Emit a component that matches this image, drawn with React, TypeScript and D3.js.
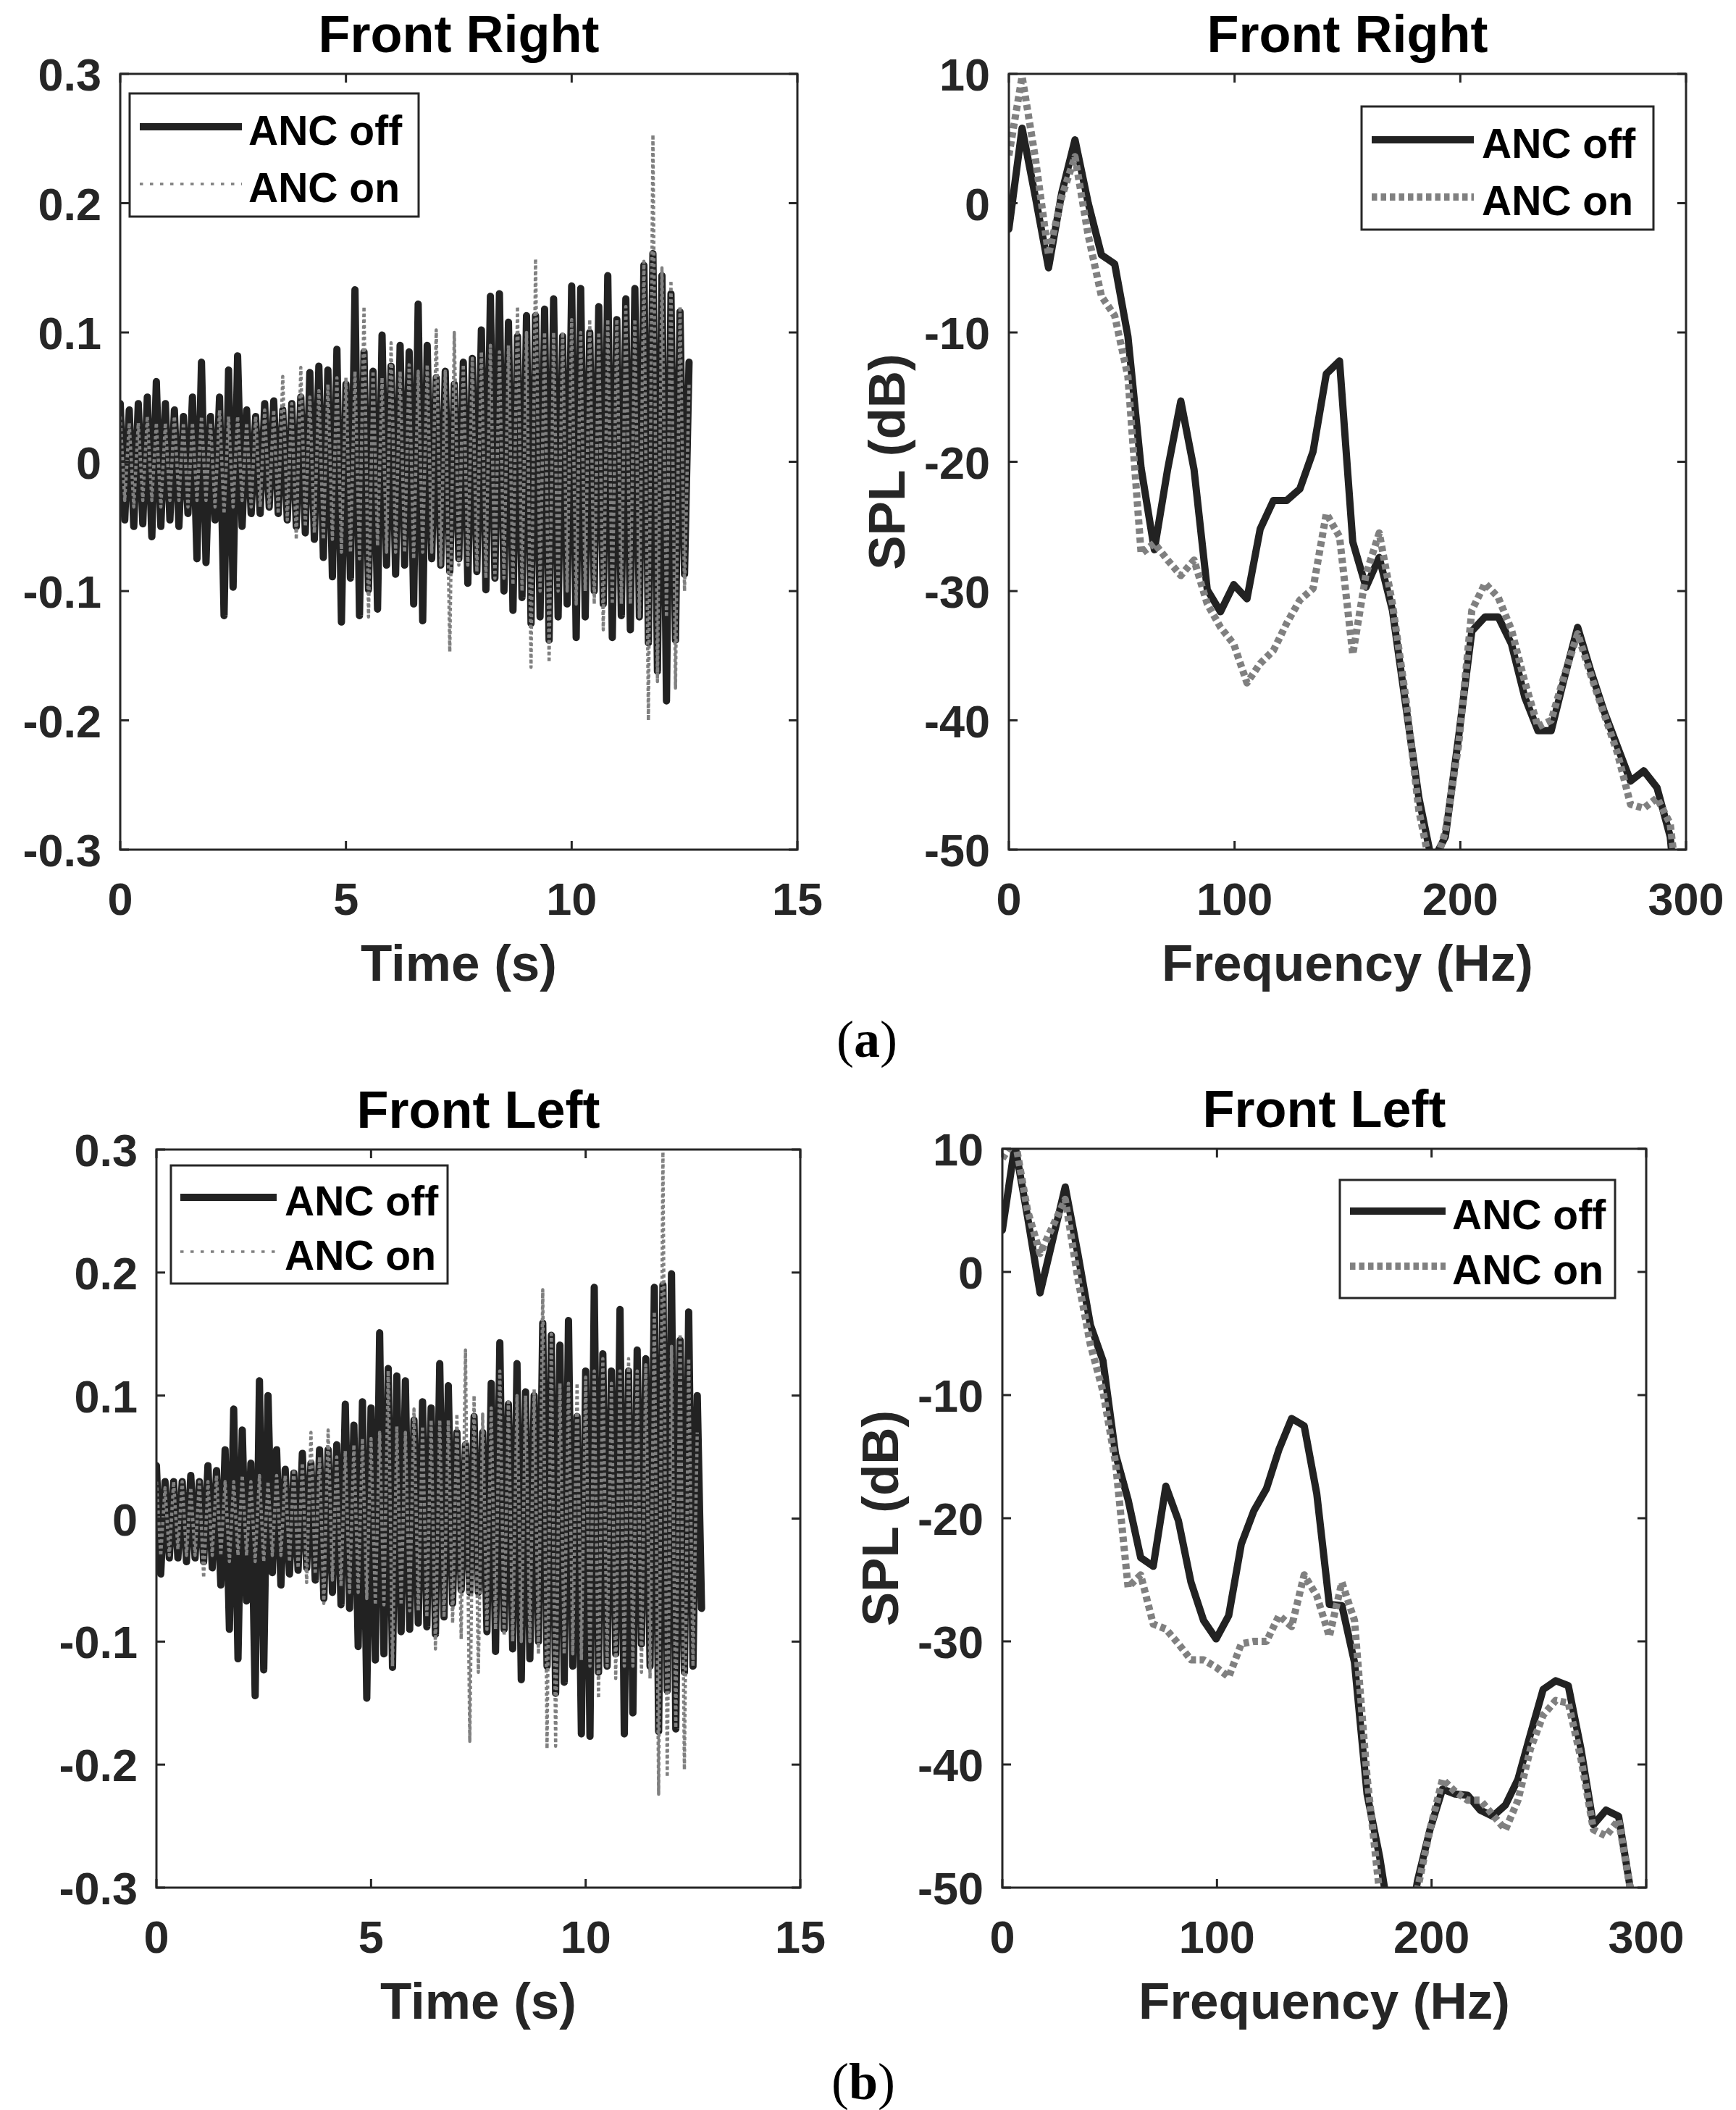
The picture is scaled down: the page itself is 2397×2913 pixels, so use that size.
import React from "react";
import * as d3 from "d3";

// ---------- DATA ----------
// time-domain peak samples, one value every SAMPLE_DT seconds (alternating upper / lower peaks)
const SAMPLE_DT = 0.1;
// spectrum bins, one value every FREQ_BIN Hz
const FREQ_BIN = 5.86;

const frontRightOff = [
  0.045, -0.045, 0.04, -0.05, 0.045, -0.048, 0.05, -0.058, 0.062, -0.05,
  0.045, -0.045, 0.04, -0.05, 0.035, -0.04, 0.05, -0.075, 0.077, -0.078,
  0.035, -0.045, 0.05, -0.119, 0.071, -0.097, 0.082, -0.05, 0.04, -0.04,
  0.035, -0.04, 0.045, -0.035, 0.047, -0.04, 0.04, -0.045, 0.045, -0.05,
  0.05, -0.055, 0.069, -0.06, 0.074, -0.074, 0.071, -0.089, 0.087, -0.124,
  0.06, -0.09, 0.133, -0.119, 0.085, -0.099, 0.07, -0.114, 0.098, -0.08,
  0.074, -0.087, 0.09, -0.08, 0.085, -0.11, 0.122, -0.123, 0.09, -0.075,
  0.065, -0.08, 0.07, -0.085, 0.06, -0.075, 0.077, -0.094, 0.08, -0.085,
  0.102, -0.099, 0.128, -0.09, 0.13, -0.1, 0.108, -0.115, 0.097, -0.105,
  0.113, -0.125, 0.113, -0.12, 0.118, -0.138, 0.126, -0.12, 0.097, -0.11,
  0.136, -0.136, 0.134, -0.12, 0.1, -0.1, 0.12, -0.11, 0.144, -0.136,
  0.11, -0.119, 0.126, -0.13, 0.134, -0.12, 0.152, -0.14, 0.161, -0.162,
  0.144, -0.185, 0.13, -0.138, 0.116, -0.087, 0.077,
];

const frontRightOn = [
  0.035, -0.03, 0.03, -0.035, 0.03, -0.03, 0.035, -0.03, 0.03, -0.035,
  0.03, -0.03, 0.035, -0.03, 0.03, -0.035, 0.03, -0.03, 0.035, -0.03,
  0.03, -0.035, 0.04, -0.04, 0.035, -0.035, 0.035, -0.03, 0.03, -0.035,
  0.035, -0.035, 0.04, -0.035, 0.04, -0.04, 0.066, -0.045, 0.045, -0.06,
  0.073, -0.05, 0.05, -0.055, 0.055, -0.06, 0.06, -0.06, 0.065, -0.07,
  0.065, -0.07, 0.07, -0.075, 0.12, -0.12, 0.07, -0.065, 0.065, -0.07,
  0.092, -0.07, 0.07, -0.07, 0.075, -0.075, 0.07, -0.07, 0.075, -0.07,
  0.102, -0.08, 0.07, -0.147, 0.1, -0.08, 0.075, -0.08, 0.08, -0.085,
  0.085, -0.09, 0.09, -0.09, 0.085, -0.09, 0.09, -0.095, 0.12, -0.1,
  0.1, -0.159, 0.157, -0.1, 0.1, -0.155, 0.1, -0.1, 0.1, -0.1,
  0.11, -0.11, 0.1, -0.1, 0.11, -0.11, 0.1, -0.13, 0.11, -0.11,
  0.11, -0.11, 0.12, -0.11, 0.11, -0.12, 0.155, -0.2, 0.253, -0.17,
  0.15, -0.12, 0.14, -0.175, 0.12, -0.1, 0.06,
];

const frontLeftOff = [
  0.043, -0.045, 0.03, -0.032, 0.03, -0.032, 0.03, -0.035, 0.035, -0.032,
  0.03, -0.035, 0.043, -0.04, 0.039, -0.054, 0.056, -0.09, 0.089, -0.114,
  0.072, -0.067, 0.045, -0.144, 0.112, -0.123, 0.1, -0.044, 0.056, -0.054,
  0.04, -0.045, 0.037, -0.042, 0.053, -0.04, 0.045, -0.05, 0.056, -0.065,
  0.056, -0.06, 0.06, -0.07, 0.093, -0.073, 0.076, -0.104, 0.095, -0.146,
  0.09, -0.115, 0.151, -0.11, 0.122, -0.121, 0.116, -0.092, 0.112, -0.09,
  0.08, -0.085, 0.095, -0.088, 0.09, -0.094, 0.126, -0.08, 0.108, -0.069,
  0.07, -0.058, 0.06, -0.06, 0.083, -0.06, 0.07, -0.092, 0.11, -0.108,
  0.143, -0.09, 0.093, -0.106, 0.126, -0.131, 0.103, -0.114, 0.1, -0.1,
  0.159, -0.12, 0.149, -0.142, 0.141, -0.133, 0.161, -0.12, 0.083, -0.175,
  0.12, -0.177, 0.188, -0.125, 0.134, -0.12, 0.12, -0.11, 0.17, -0.175,
  0.12, -0.158, 0.137, -0.102, 0.13, -0.12, 0.188, -0.173, 0.19, -0.14,
  0.199, -0.171, 0.145, -0.125, 0.168, -0.12, 0.1, -0.073,
];

const frontLeftOn = [
  0.03, -0.03, 0.025, -0.03, 0.03, -0.025, 0.03, -0.03, 0.025, -0.03,
  0.03, -0.048, 0.03, -0.03, 0.035, -0.03, 0.03, -0.035, 0.03, -0.03,
  0.035, -0.03, 0.03, -0.035, 0.035, -0.035, 0.03, -0.03, 0.035, -0.03,
  0.035, -0.035, 0.04, -0.04, 0.045, -0.052, 0.07, -0.045, 0.05, -0.069,
  0.072, -0.05, 0.05, -0.055, 0.055, -0.06, 0.06, -0.06, 0.065, -0.065,
  0.065, -0.07, 0.07, -0.07, 0.12, -0.12, 0.075, -0.07, 0.07, -0.075,
  0.089, -0.075, 0.075, -0.08, 0.08, -0.106, 0.08, -0.08, 0.08, -0.085,
  0.085, -0.098, 0.137, -0.181, 0.1, -0.125, 0.085, -0.09, 0.09, -0.09,
  0.12, -0.095, 0.095, -0.1, 0.1, -0.1, 0.1, -0.1, 0.105, -0.11,
  0.186, -0.187, 0.15, -0.185, 0.11, -0.11, 0.11, -0.11, 0.11, -0.115,
  0.115, -0.12, 0.12, -0.146, 0.13, -0.12, 0.11, -0.13, 0.12, -0.12,
  0.13, -0.12, 0.12, -0.125, 0.125, -0.13, 0.168, -0.224, 0.298, -0.21,
  0.14, -0.17, 0.15, -0.204, 0.13, -0.12, 0.07,
];

const splFrontRightOff = [
  -2, 5.8, 0.5, -5.0, 0.8, 4.9, 0, -4.0, -4.7, -10.3,
  -20.5, -26.8, -20.6, -15.3, -20.6, -29.9, -31.6, -29.5, -30.6, -25.2,
  -23.0, -23.0, -22.1, -19.2, -13.2, -12.2, -26.2, -29.7, -27.4, -31.5,
  -38.8, -46.0, -51, -49, -41.3, -33.1, -32, -32, -34.1, -38.2,
  -40.8, -40.8, -36.7, -32.8, -36.2, -39.3, -42, -44.7, -43.9, -45.2,
  -49, -60,
];
const splFrontRightOn = [
  3.7, 9.8, 3.5, -4.0, 0.5, 3.6, -2.5, -7.2, -8.7, -13.4,
  -27.1, -26.3, -27.6, -28.8, -27.6, -31, -32.8, -34.1, -37.1, -35.6,
  -34.6, -32.5, -30.7, -29.8, -24.0, -25.8, -34.9, -28.7, -25.5, -31,
  -38.2, -47, -52, -48.6, -41.9, -31.5, -29.4, -30.5, -33, -37,
  -40.5, -40, -36.5, -33.3, -36.5, -39.5, -42.5, -46.5, -46.8, -46,
  -48, -57,
];
const splFrontLeftOff = [
  3.4, 10.3, 4.5, -1.7, 2.6, 6.9, 1.5, -4.3, -7.2, -14.8,
  -18.5, -23.2, -23.9, -17.4, -20.2, -25.2, -28.3, -29.8, -27.9, -22.1,
  -19.4, -17.6, -14.4, -11.9, -12.5, -18, -27, -27.1, -31.7, -42.4,
  -47.5, -54, -56, -49.5, -45.3, -42, -42.4, -42.5, -43.7, -44.2,
  -43.3, -41.2, -37.5, -33.9, -33.2, -33.6, -38.7, -44.9, -43.7, -44.2,
  -50.5, -60,
];
const splFrontLeftOn = [
  9.2, 10.8, 5, 1.5, 3.7, 5.9, -0.5, -5.9, -9.7, -15.5,
  -25.6, -24.6, -28.6, -29, -30.2, -31.5, -31.5, -32.1, -32.9, -30.2,
  -30, -30, -27.9, -28.8, -24.6, -26.3, -29.6, -25.2, -28.3, -41,
  -50.5, -56, -58, -50.2, -45.3, -41.2, -42.2, -42.9, -42.9, -44.1,
  -45.3, -42.9, -38.7, -36, -34.8, -35, -39.5, -45.3, -45.8, -44.5,
  -50.5, -60,
];

const timeTicks = [0, 5, 10, 15];
const ampTicks = [-0.3, -0.2, -0.1, 0, 0.1, 0.2, 0.3];
const freqTicks = [0, 100, 200, 300];
const splTicks = [-50, -40, -30, -20, -10, 0, 10];
const legendLabels = ["ANC off", "ANC on"];

// ---------- STYLE ----------
const SANS = "'Liberation Sans', Arial, Helvetica, sans-serif";
const SERIF = "'Liberation Serif', 'Times New Roman', serif";
const AXIS = "#262626";
const DARK = "#222222";
const GREY = "#808080";

type Box = { x0: number; x1: number; y0: number; y1: number };
type LineStyle = { color: string; width: number; dash?: string };
type Series = { values: number[]; step: number; style: LineStyle };
type Legend = { x0: number; x1: number; y0: number; y1: number; s0: number; s1: number; tx: number; rows: number[] };

const fmtAmp = (d: number) => (Math.abs(d) < 1e-9 ? "0" : (d < 0 ? "-" : "") + Math.abs(d).toFixed(1));
const fmtInt = (d: number) => (d < 0 ? "-" + Math.abs(d) : String(d));

function Panel(props: {
  id: string;
  box: Box;
  xDomain: [number, number];
  yDomain: [number, number];
  xTicks: number[];
  yTicks: number[];
  fmtX: (d: number) => string;
  fmtY: (d: number) => string;
  series: Series[];
  title: string;
  xLabel: string;
  yLabel?: string;
  legend: Legend;
  legendStyles: LineStyle[];
}) {
  const { id, box, series, legend } = props;
  const x = d3.scaleLinear().domain(props.xDomain).range([box.x0, box.x1]);
  const y = d3.scaleLinear().domain(props.yDomain).range([box.y1, box.y0]);
  const T = 12;
  const cx = (box.x0 + box.x1) / 2;
  const cy = (box.y0 + box.y1) / 2;
  return (
    <g>
      <defs>
        <clipPath id={`clip-${id}`}>
          <rect x={box.x0} y={box.y0} width={box.x1 - box.x0} height={box.y1 - box.y0} />
        </clipPath>
      </defs>
      <g clipPath={`url(#clip-${id})`}>
        {series.map((s, k) => {
          const line = d3
            .line<number>()
            .x((_, i) => x(i * s.step))
            .y((d) => y(d));
          return (
            <path
              key={k}
              d={line(s.values) || ""}
              fill="none"
              stroke={s.style.color}
              strokeWidth={s.style.width}
              strokeDasharray={s.style.dash}
              strokeLinejoin="round"
              strokeLinecap={s.style.dash ? "butt" : "round"}
            />
          );
        })}
      </g>
      {props.xTicks.map((t) => (
        <g key={`xt${t}`}>
          <line x1={x(t)} x2={x(t)} y1={box.y1} y2={box.y1 - T} stroke={AXIS} strokeWidth={3} />
          <line x1={x(t)} x2={x(t)} y1={box.y0} y2={box.y0 + T} stroke={AXIS} strokeWidth={3} />
          <text x={x(t)} y={box.y1 + 90} textAnchor="middle" fontFamily={SANS} fontWeight="bold" fontSize={63} fill={AXIS}>
            {props.fmtX(t)}
          </text>
        </g>
      ))}
      {props.yTicks.map((t) => (
        <g key={`yt${t}`}>
          <line x1={box.x0} x2={box.x0 + T} y1={y(t)} y2={y(t)} stroke={AXIS} strokeWidth={3} />
          <line x1={box.x1} x2={box.x1 - T} y1={y(t)} y2={y(t)} stroke={AXIS} strokeWidth={3} />
          <text x={box.x0 - 26} y={y(t) + 23} textAnchor="end" fontFamily={SANS} fontWeight="bold" fontSize={63} fill={AXIS}>
            {props.fmtY(t)}
          </text>
        </g>
      ))}
      <rect x={box.x0} y={box.y0} width={box.x1 - box.x0} height={box.y1 - box.y0} fill="none" stroke={AXIS} strokeWidth={3} />
      <text x={cx} y={box.y0 - 30} textAnchor="middle" fontFamily={SANS} fontWeight="bold" fontSize={72} fill="#000">
        {props.title}
      </text>
      <text x={cx} y={box.y1 + 181} textAnchor="middle" fontFamily={SANS} fontWeight="bold" fontSize={71} fill={AXIS}>
        {props.xLabel}
      </text>
      {props.yLabel && (
        <text
          transform={`translate(${box.x0 - 170 + 26},${cy}) rotate(-90)`}
          textAnchor="middle"
          fontFamily={SANS}
          fontWeight="bold"
          fontSize={71}
          fill={AXIS}
        >
          {props.yLabel}
        </text>
      )}
      <rect x={legend.x0} y={legend.y0} width={legend.x1 - legend.x0} height={legend.y1 - legend.y0} fill="#fff" stroke={AXIS} strokeWidth={3} />
      {legendLabels.map((lab, i) => {
        const st = props.legendStyles[i];
        const ly = legend.rows[i];
        return (
          <g key={lab}>
            <line x1={legend.s0} x2={legend.s1} y1={ly} y2={ly} stroke={st.color} strokeWidth={st.width} strokeDasharray={st.dash} />
            <text x={legend.tx} y={ly + 25} fontFamily={SANS} fontWeight="bold" fontSize={57} fill="#000">
              {lab}
            </text>
          </g>
        );
      })}
    </g>
  );
}

const timeOffStyle: LineStyle = { color: DARK, width: 10 };
// the dense sampled waveform renders as a mesh of grey dots over the black trace
const timeOnStyle: LineStyle = { color: GREY, width: 4.5, dash: "4.5 3.5" };
const timeOnLegend: LineStyle = { color: GREY, width: 3.5, dash: "4.5 9.5" };
const splOffStyle: LineStyle = { color: DARK, width: 10 };
const splOnStyle: LineStyle = { color: GREY, width: 10, dash: "7.5 5" };

export default function App() {
  return (
    <svg
      width={2397}
      height={2913}
      viewBox="0 0 2397 2913"
      style={{ position: "absolute", left: 0, top: 0, display: "block", background: "#fff" }}
    >
      <rect width={2397} height={2913} fill="#fff" />
      <Panel
        id="a1"
        box={{ x0: 166, x1: 1101, y0: 102, y1: 1173 }}
        xDomain={[0, 15]}
        yDomain={[-0.3, 0.3]}
        xTicks={timeTicks}
        yTicks={ampTicks}
        fmtX={fmtInt}
        fmtY={fmtAmp}
        series={[
          { values: frontRightOff, step: SAMPLE_DT, style: timeOffStyle },
          { values: frontRightOn, step: SAMPLE_DT, style: timeOnStyle },
        ]}
        title="Front Right"
        xLabel="Time (s)"
        legend={{ x0: 179, x1: 578, y0: 129, y1: 299, s0: 193, s1: 334, tx: 343, rows: [175, 254] }}
        legendStyles={[timeOffStyle, timeOnLegend]}
      />
      <Panel
        id="a2"
        box={{ x0: 1393, x1: 2328, y0: 102, y1: 1173 }}
        xDomain={[0, 300]}
        yDomain={[-50, 10]}
        xTicks={freqTicks}
        yTicks={splTicks}
        fmtX={fmtInt}
        fmtY={fmtInt}
        series={[
          { values: splFrontRightOff, step: FREQ_BIN, style: splOffStyle },
          { values: splFrontRightOn, step: FREQ_BIN, style: splOnStyle },
        ]}
        title="Front Right"
        xLabel="Frequency (Hz)"
        yLabel="SPL (dB)"
        legend={{ x0: 1880, x1: 2283, y0: 147, y1: 317, s0: 1894, s1: 2035, tx: 2046, rows: [193, 272] }}
        legendStyles={[splOffStyle, splOnStyle]}
      />
      <Panel
        id="b1"
        box={{ x0: 216, x1: 1105, y0: 1587, y1: 2606 }}
        xDomain={[0, 15]}
        yDomain={[-0.3, 0.3]}
        xTicks={timeTicks}
        yTicks={ampTicks}
        fmtX={fmtInt}
        fmtY={fmtAmp}
        series={[
          { values: frontLeftOff, step: SAMPLE_DT, style: timeOffStyle },
          { values: frontLeftOn, step: SAMPLE_DT, style: timeOnStyle },
        ]}
        title="Front Left"
        xLabel="Time (s)"
        legend={{ x0: 236, x1: 618, y0: 1609, y1: 1772, s0: 249, s1: 382, tx: 393, rows: [1653, 1728] }}
        legendStyles={[timeOffStyle, timeOnLegend]}
      />
      <Panel
        id="b2"
        box={{ x0: 1384, x1: 2273, y0: 1586, y1: 2606 }}
        xDomain={[0, 300]}
        yDomain={[-50, 10]}
        xTicks={freqTicks}
        yTicks={splTicks}
        fmtX={fmtInt}
        fmtY={fmtInt}
        series={[
          { values: splFrontLeftOff, step: FREQ_BIN, style: splOffStyle },
          { values: splFrontLeftOn, step: FREQ_BIN, style: splOnStyle },
        ]}
        title="Front Left"
        xLabel="Frequency (Hz)"
        yLabel="SPL (dB)"
        legend={{ x0: 1850, x1: 2230, y0: 1629, y1: 1792, s0: 1864, s1: 1996, tx: 2005, rows: [1672, 1748] }}
        legendStyles={[splOffStyle, splOnStyle]}
      />
      <text x={1197} y={1459} textAnchor="middle" fontFamily={SERIF} fontSize={72} fill="#000">
        (<tspan fontWeight="bold">a</tspan>)
      </text>
      <text x={1192} y={2898} textAnchor="middle" fontFamily={SERIF} fontSize={72} fill="#000">
        (<tspan fontWeight="bold">b</tspan>)
      </text>
    </svg>
  );
}
